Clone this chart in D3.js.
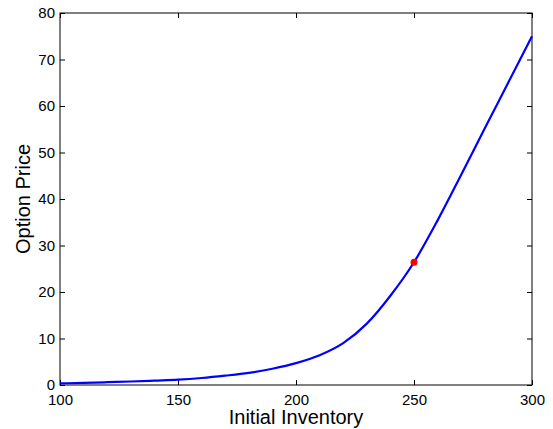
<!DOCTYPE html>
<html>
<head>
<meta charset="utf-8">
<script src="https://cdn.jsdelivr.net/npm/d3@7"></script>
<style>
  body { margin: 0; background: #fff; }
  svg { display: block; font-family: "Liberation Sans", Arial, Helvetica, sans-serif; }
</style>
</head>
<body>
<div id="chart"></div>
<script>
// values
const inventory = [100, 110, 120, 130, 140, 150, 160, 170, 180, 190, 200, 210, 220, 230, 240, 250, 260, 270, 280, 290, 300];
const price = [0.35, 0.45, 0.6, 0.75, 0.95, 1.15, 1.5, 2.0, 2.6, 3.5, 4.7, 6.4, 9.0, 13.2, 19.2, 26.4, 35.4, 45.2, 55.2, 65.1, 75];
const marker = { x: 250, y: 26.4 };
const xTicks = [100, 150, 200, 250, 300];
const yTicks = [0, 10, 20, 30, 40, 50, 60, 70, 80];

const W = 553, H = 429;
const margin = { top: 13, right: 21, bottom: 44, left: 60 };
const width = W - margin.left - margin.right;
const height = H - margin.top - margin.bottom;

const svg = d3.select("#chart")
  .append("svg")
  .attr("width", W)
  .attr("height", H)
  .append("g")
  .attr("transform", `translate(${margin.left},${margin.top})`);

const x = d3.scaleLinear().domain([100, 300]).range([0, width]);
const y = d3.scaleLinear().domain([0, 80]).range([height, 0]);

// Axes (inward ticks, MATLAB style)
function styleAxis(g) {
  g.select(".domain").remove();
  g.selectAll(".tick line").attr("stroke", "#000");
  g.selectAll(".tick text").attr("fill", "#000").style("font-size", "15px");
}

svg.append("g")
  .attr("transform", `translate(0,${height})`)
  .call(d3.axisBottom(x).tickValues(xTicks).tickSizeInner(-5).tickSizeOuter(0).tickPadding(9))
  .call(styleAxis);

svg.append("g")
  .call(d3.axisLeft(y).tickValues(yTicks).tickSizeInner(-5).tickSizeOuter(0).tickPadding(5))
  .call(styleAxis);

// mirrored ticks on top and right
svg.append("g")
  .call(d3.axisTop(x).tickValues(xTicks).tickSizeInner(-5).tickSizeOuter(0).tickFormat(""))
  .call(styleAxis);

svg.append("g")
  .attr("transform", `translate(${width},0)`)
  .call(d3.axisRight(y).tickValues(yTicks).tickSizeInner(-5).tickSizeOuter(0).tickFormat(""))
  .call(styleAxis);

// Box
svg.append("rect")
  .attr("x", 0)
  .attr("y", 0)
  .attr("width", width)
  .attr("height", height)
  .attr("fill", "none")
  .attr("stroke", "#000")
  .attr("stroke-width", 1);

// Axis labels
svg.append("text")
  .attr("text-anchor", "middle")
  .attr("x", width / 2)
  .attr("y", height + 39)
  .style("font-size", "20px")
  .text("Initial Inventory");

svg.append("text")
  .attr("text-anchor", "middle")
  .attr("transform", "rotate(-90)")
  .attr("x", -height / 2)
  .attr("y", -30)
  .style("font-size", "20px")
  .text("Option Price");

// Line
const data = inventory.map((v, i) => ({ x: v, y: price[i] }));
const line = d3.line()
  .x(d => x(d.x))
  .y(d => y(d.y))
  .curve(d3.curveMonotoneX);

svg.append("path")
  .datum(data)
  .attr("fill", "none")
  .attr("stroke", "#0000ff")
  .attr("stroke-width", 2.2)
  .attr("d", line);

// Marker
svg.append("circle")
  .attr("cx", x(marker.x))
  .attr("cy", y(marker.y))
  .attr("r", 3.5)
  .attr("fill", "#ff0000");
</script>
</body>
</html>
